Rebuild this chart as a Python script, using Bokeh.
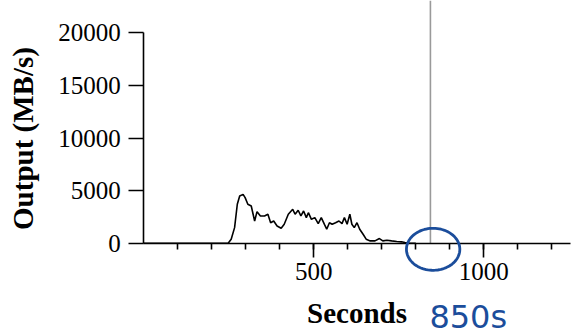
from bokeh.plotting import figure
from bokeh.models import Range1d, FixedTicker, Label, PolyAnnotation
from bokeh.embed import file_html
from bokeh.resources import INLINE
import numpy as np

# ---- data ----
seconds = [0, 248, 257, 267, 275, 282, 292, 298, 306, 316, 326, 333, 343, 355, 365,
           373, 382, 392, 404, 413, 425, 438, 445, 454, 462, 470, 478, 484, 493, 503,
           513, 522, 532, 538, 546, 554, 564, 574, 583, 590, 598, 606, 612, 619, 627,
           635, 645, 654, 666, 680, 693, 703, 715, 729, 744, 758, 768, 780, 800]
output_mbs = [0, 0, 380, 1480, 3700, 4480, 4640, 4330, 3700, 3540, 2110, 3000, 2590, 2590, 2750,
              1950, 2110, 1640, 1420, 1800, 2750, 3220, 2750, 3130, 2590, 3060, 2430, 2900, 2270, 2430,
              1860, 2430, 1740, 1330, 1950, 1800, 1950, 2110, 1860, 2430, 1800, 2750, 1800, 1480, 1950,
              1330, 850, 380, 220, 220, 440, 220, 280, 220, 160, 130, 60, 0, 0]
marker_time = 843
y_ticks = [0, 5000, 10000, 15000, 20000]
x_major_ticks = [500, 1000]
x_minor_ticks = [100, 200, 300, 400, 500, 600, 700, 800, 900, 1000, 1100, 1200]
x_label = "Seconds"
y_label = "Output (MB/s)"
note_text = "850s"

SERIF = "Liberation Serif"
BLUE = "#1b4d9b"

yr = Range1d(-8774, 23071)
p = figure(width=577, height=335, output_backend="svg", toolbar_location=None,
           x_range=Range1d(-421.5, 1275.6), y_range=yr,
           min_border_left=0, min_border_right=0, min_border_top=0, min_border_bottom=0)
p.outline_line_color = None
p.background_fill_color = "white"
p.border_fill_color = "white"
p.grid.visible = False

# vertical marker from the axis up to the top edge
p.segment(x0=[marker_time], y0=[0], x1=[marker_time], y1=[yr.end],
          line_color="#9a9a9a", line_width=1.6)

p.line(seconds, output_mbs, line_color="black", line_width=1.6)

# axes drawn at the data origin
xa = p.xaxis[0]
xa.fixed_location = 0
xa.ticker = FixedTicker(ticks=x_major_ticks, minor_ticks=x_minor_ticks)
xa.bounds = (0, 1255)
ya = p.yaxis[0]
ya.fixed_location = 0
ya.ticker = FixedTicker(ticks=y_ticks)
ya.bounds = (0, 20000)
for a in (xa, ya):
    a.axis_line_color = "black"
    a.axis_line_width = 1.6
    a.major_tick_line_color = "black"
    a.major_tick_line_width = 1.6
    a.minor_tick_line_color = "black"
    a.minor_tick_line_width = 1.6
    a.major_tick_in = 0
    a.minor_tick_in = 0
    a.major_label_text_font = SERIF
    a.major_label_text_font_size = "25px"
    a.major_label_text_color = "black"
xa.major_tick_out = 14
xa.minor_tick_out = 6
xa.major_label_standoff = 6
ya.major_tick_out = 15
ya.minor_tick_out = 0
ya.major_label_standoff = 8

# axis titles
p.add_layout(Label(x=627, y=-6588, text=x_label, text_align="center", text_baseline="middle",
                   text_font=SERIF, text_font_style="bold", text_font_size="29px", text_color="black"))
p.add_layout(Label(x=-355, y=9953, text=y_label, angle=np.pi / 2, text_align="center",
                   text_baseline="middle", text_font=SERIF, text_font_style="bold",
                   text_font_size="29px", text_color="black"))

# hand-drawn annotation
t = np.linspace(0, 2 * np.pi, 90)
p.add_layout(PolyAnnotation(xs=list(851 + 78.5 * np.cos(t)), ys=list(-580 + 1996 * np.sin(t)),
                            fill_alpha=0, line_alpha=1, line_color=BLUE, line_width=2.8))
p.add_layout(Label(x=840, y=-7034, text=note_text, text_color=BLUE, text_baseline="middle",
                   text_font="DejaVu Sans", text_font_size="32px"))

open("out.html", "w").write(file_html(p, INLINE))
